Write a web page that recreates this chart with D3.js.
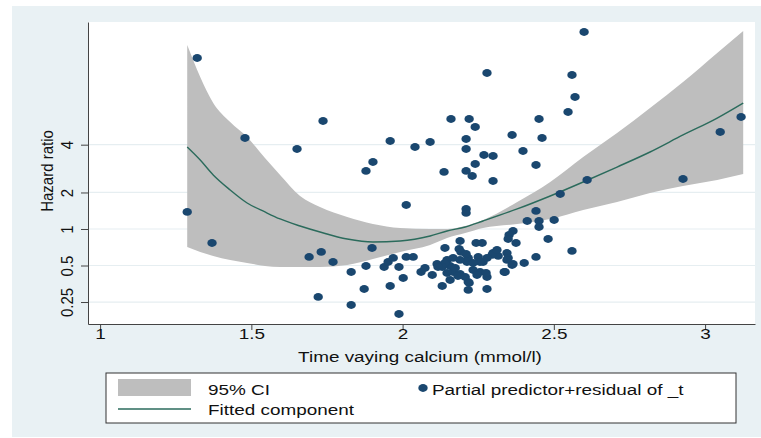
<!DOCTYPE html>
<html>
<head>
<meta charset="utf-8">
<script src="https://cdn.jsdelivr.net/npm/d3@7"></script>
<style>
  body { margin: 0; background: #fff; }
  text { font-family: "Liberation Sans", Arial, sans-serif; fill: #111; }
</style>
</head>
<body>
<svg width="761" height="438"></svg>
<script>
// fitted component and 95% CI, log hazard scale
const calciumGrid = [1.288, 1.331, 1.374, 1.430, 1.486, 1.545, 1.595, 1.661, 1.727, 1.817, 1.902, 1.992,
  2.091, 2.147, 2.207, 2.266, 2.379, 2.488, 2.597, 2.709, 2.818, 2.927, 3.040, 3.126];
const fitted = [1.556, 1.309, 1.025, 0.740, 0.493, 0.323, 0.190, 0.057, -0.057, -0.190, -0.247, -0.228,
  -0.133, -0.038, 0.038, 0.152, 0.380, 0.626, 0.892, 1.176, 1.461, 1.784, 2.106, 2.391];
const ciUpper = [3.491, 2.884, 2.391, 2.030, 1.746, 1.347, 1.025, 0.626, 0.417, 0.228, 0.095, 0.019,
  0.000, 0.000, 0.057, 0.171, 0.512, 0.892, 1.366, 1.822, 2.296, 2.789, 3.340, 3.757];
const ciLower = [-0.342, -0.436, -0.512, -0.588, -0.645, -0.702, -0.721, -0.721, -0.721, -0.683, -0.569, -0.436,
  -0.304, -0.171, -0.076, 0.019, 0.095, 0.190, 0.361, 0.512, 0.683, 0.816, 0.930, 1.044];

// partial predictor + residual
const pointCalcium = [1.288, 1.321, 1.370, 1.479, 1.651, 1.737, 1.879, 1.902, 1.691, 1.731, 1.770, 1.830,
  1.879, 1.899, 1.721, 1.830, 1.873, 1.959, 2.041, 2.091, 2.137, 2.012, 2.160, 2.220, 2.240, 2.210,
  2.210, 2.269, 2.299, 2.240, 2.210, 2.230, 2.299, 2.362, 2.398, 2.441, 2.451, 2.461, 2.547, 2.570,
  2.600, 2.279, 2.560, 3.119, 3.050, 2.927, 2.610, 2.521, 2.210, 2.210, 2.441, 2.412, 2.451, 2.451,
  2.501, 2.481, 2.560, 2.365, 2.352, 2.349, 2.375, 2.190, 2.243, 2.263, 2.140, 2.187, 1.959, 1.988,
  2.002, 1.988, 1.939, 1.952, 1.969, 2.012, 2.035, 2.061, 2.074, 2.098, 2.114, 2.131, 2.147, 2.157,
  2.167, 2.190, 2.217, 2.217, 2.279, 2.279, 2.256, 2.266, 2.299, 2.316, 2.345, 2.349, 2.336, 2.365,
  2.402, 2.441, 2.193, 2.296, 2.279, 2.250, 2.256, 2.345, 2.362, 2.339, 2.276, 2.233, 2.213, 2.190,
  2.140, 2.131, 2.174, 2.147, 2.183, 2.207, 2.246, 2.220, 2.157, 2.167, 2.217, 2.233, 2.117, 2.312,
  2.210];
const pointResid = [0.323, 3.245, -0.266, 1.727, 1.518, 2.049, 1.101, 1.271, -0.531, -0.436, -0.626, -0.816,
  -0.702, -0.361, -1.290, -1.442, -1.139, 1.670, 1.556, 1.651, 1.082, 0.455, 2.087, 2.087, 1.935, 1.708,
  1.518, 1.404, 1.385, 1.233, 1.101, 1.006, 0.911, 1.784, 1.480, 1.214, 2.087, 1.727, 2.220, 2.505,
  3.738, 2.960, 2.922, 2.125, 1.841, 0.949, 0.930, 0.664, 0.380, 0.304, 0.342, 0.152, 0.152, 0.038,
  0.171, -0.190, -0.417, -0.038, -0.114, -0.190, -0.266, -0.228, -0.266, -0.266, -0.361, -0.380, -1.082, -1.613,
  -0.930, -0.721, -0.721, -0.626, -0.550, -0.531, -0.531, -0.816, -0.740, -0.873, -0.664, -1.082, -0.588, -0.702,
  -0.816, -0.854, -1.006, -1.157, -1.139, -0.911, -0.816, -0.626, -0.455, -0.512, -0.455, -0.550, -0.816, -0.664,
  -0.645, -0.531, -0.436, -0.493, -0.550, -0.531, -0.626, -0.588, -0.683, -0.816, -0.835, -0.778, -0.626, -0.588,
  -0.645, -0.721, -0.740, -0.835, -0.892, -0.911, -0.873, -1.025, -0.968, -0.550, -0.550, -0.645, -0.721, -0.398,
  -0.474];

const xTicks = [1, 1.5, 2, 2.5, 3];
const yTickPos = [-1.386, -0.693, 0, 0.693, 1.60];
const yTickLabels = ["0.25", "0.5", "1", "2", "4"];

const svg = d3.select("svg");
const plotL = 88, plotR = 755, plotT = 22, plotB = 324;
const stretch = 1.22;

const x = d3.scaleLinear().domain([0.96, 3.165]).range([plotL, plotR]);
const y = d3.scaleLinear().domain([-1.803, 3.928]).range([plotB, plotT]);

// backgrounds
svg.append("rect").attr("x", 12).attr("y", 6).attr("width", 749).attr("height", 431).attr("fill", "#e9f1f4");
svg.append("rect").attr("x", plotL).attr("y", plotT).attr("width", plotR - plotL).attr("height", plotB - plotT).attr("fill", "#fff");

// grid
svg.append("g").selectAll("line").data(yTickPos).enter().append("line")
  .attr("x1", plotL).attr("x2", plotR)
  .attr("y1", d => y(d)).attr("y2", d => y(d))
  .attr("stroke", "#e6eef1").attr("stroke-width", 1.2);

// CI band
const band = d3.area()
  .x((d, i) => x(calciumGrid[i]))
  .y0((d, i) => y(ciLower[i]))
  .y1((d, i) => y(ciUpper[i]))
  .curve(d3.curveMonotoneX);
svg.append("path").datum(calciumGrid).attr("d", band).attr("fill", "#bebebe");

// fitted line
const line = d3.line()
  .x((d, i) => x(calciumGrid[i]))
  .y((d, i) => y(fitted[i]))
  .curve(d3.curveMonotoneX);
svg.append("path").datum(calciumGrid).attr("d", line)
  .attr("fill", "none").attr("stroke", "#2b6b5c").attr("stroke-width", 1.4);

// points
svg.append("g").selectAll("ellipse").data(pointCalcium).enter().append("ellipse")
  .attr("cx", d => x(d))
  .attr("cy", (d, i) => y(pointResid[i]))
  .attr("rx", 4.7).attr("ry", 3.9)
  .attr("fill", "#1a476f");

// axes
const yAxis = svg.append("g").attr("transform", `translate(${plotL},0)`)
  .call(d3.axisLeft(y).tickValues(yTickPos).tickFormat((d, i) => yTickLabels[i]).tickSize(7).tickSizeOuter(0));
yAxis.selectAll("text")
  .attr("x", null).attr("dy", null)
  .attr("text-anchor", "middle")
  .attr("transform", `translate(-15,0) scale(1.1,1) rotate(-90)`)
  .style("font-size", "15px");

const xAxis = svg.append("g").attr("transform", `translate(0,${plotB})`)
  .call(d3.axisBottom(x).tickValues(xTicks).tickFormat(d3.format("")).tickSize(6).tickSizeOuter(0));
xAxis.selectAll("text")
  .attr("y", null).attr("dy", null)
  .attr("transform", `translate(0,15) scale(${stretch},1)`)
  .style("font-size", "15.5px");

svg.selectAll(".domain, .tick line").attr("stroke", "#444");
svg.selectAll(".tick text").attr("fill", "#111").style("font-family", "'Liberation Sans', Arial, sans-serif");

// axis titles
svg.append("text")
  .attr("text-anchor", "middle")
  .attr("transform", `translate(53,171) scale(1.1,1) rotate(-90)`)
  .style("font-size", "15px")
  .text("Hazard ratio");
svg.append("text")
  .attr("text-anchor", "middle")
  .attr("transform", `translate(420,362) scale(${stretch},1)`)
  .style("font-size", "15.5px")
  .text("Time vaying calcium (mmol/l)");

// legend
const lg = svg.append("g");
lg.append("rect").attr("x", 106).attr("y", 373).attr("width", 630).attr("height", 50)
  .attr("fill", "#fff").attr("stroke", "#333").attr("stroke-width", 1);
lg.append("rect").attr("x", 118).attr("y", 379).attr("width", 73).attr("height", 17).attr("fill", "#bebebe");
lg.append("line").attr("x1", 118).attr("x2", 191).attr("y1", 409).attr("y2", 409)
  .attr("stroke", "#2b6b5c").attr("stroke-width", 1.4);
lg.append("ellipse").attr("cx", 423).attr("cy", 388).attr("rx", 4.7).attr("ry", 3.9).attr("fill", "#1a476f");
const legendText = [["95% CI", 208, 395], ["Fitted component", 208, 415], ["Partial predictor+residual of _t", 432, 395]];
lg.selectAll("text.lab").data(legendText).enter().append("text")
  .attr("transform", d => `translate(${d[1]},${d[2]}) scale(${stretch},1)`)
  .style("font-size", "15.5px")
  .text(d => d[0]);
</script>
</body>
</html>
